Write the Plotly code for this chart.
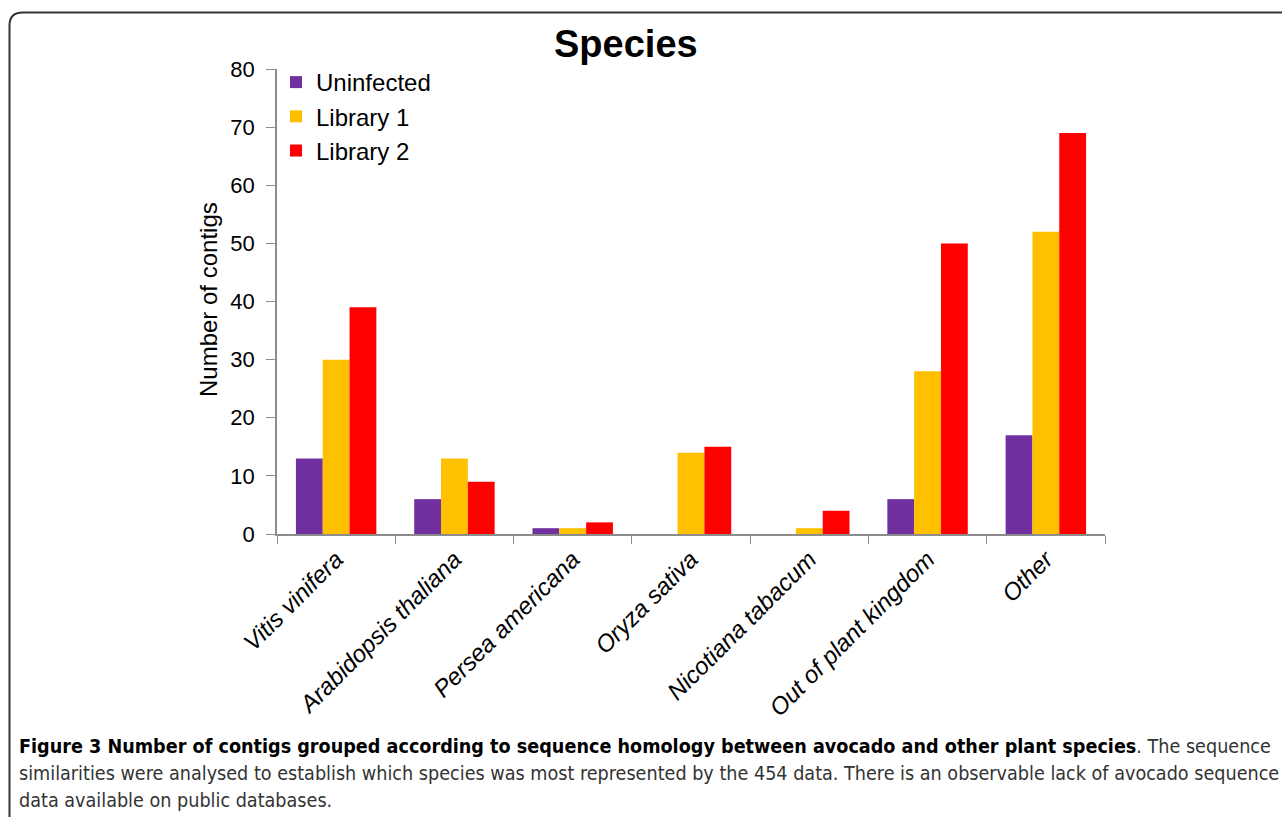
import plotly.graph_objects as go

categories = ["Vitis vinifera", "Arabidopsis thaliana", "Persea americana",
              "Oryza sativa", "Nicotiana tabacum", "Out of plant kingdom", "Other"]
uninfected = [13, 6, 1, 0, 0, 6, 17]
library1 = [30, 13, 1, 14, 1, 28, 52]
library2 = [39, 9, 2, 15, 4, 50, 69]
series_names = ["Uninfected", "Library 1", "Library 2"]
colors = ["#7030A0", "#FFC000", "#FF0000"]

W, H = 1282, 817
L, R, T, B = 277, 1105, 69, 534


def px(x):
    return (x - L) / (R - L)


def py(y):
    return (B - y) / (B - T)


ARIAL = "Arial, Liberation Sans, sans-serif"
labels = ["<i>%s</i>" % c for c in categories]

fig = go.Figure()
for i, (name, vals) in enumerate(zip(series_names, [uninfected, library1, library2])):
    fig.add_trace(go.Bar(
        x=labels, y=vals, name=name,
        marker=dict(color=colors[i], line=dict(width=0)),
    ))

fig.update_layout(
    width=W, height=H,
    margin=dict(l=L, r=W - R, t=T, b=H - B, autoexpand=False),
    paper_bgcolor="white", plot_bgcolor="white",
    barmode="group", bargap=0.32, bargroupgap=0,
    font=dict(family=ARIAL, color="black"),
    showlegend=True,
    legend=dict(
        x=px(276), y=py(60), xanchor="left", yanchor="top",
        font=dict(size=24, family=ARIAL),
        bgcolor="rgba(0,0,0,0)", tracegroupgap=0,
        itemwidth=30,
    ),
    xaxis=dict(
        showline=True, linecolor="#8c8c8c", linewidth=1.5,
        ticks="outside", tickson="boundaries", ticklen=8, tickcolor="#8c8c8c",
        tickangle=-45, tickfont=dict(size=24, family=ARIAL),
        showgrid=False, automargin=False,
    ),
    yaxis=dict(
        range=[0, 80], dtick=10, showline=True, linecolor="#8c8c8c", linewidth=1.5,
        ticks="outside", ticklen=9, tickcolor="#8c8c8c", ticklabelstandoff=7,
        tickfont=dict(size=22, family=ARIAL),
        showgrid=False, zeroline=False, automargin=False,
    ),
)

annotations = [
    dict(text="<b>Species</b>", x=px(626), y=py(44), xref="paper", yref="paper",
         xanchor="center", yanchor="middle", showarrow=False,
         font=dict(size=38, family=ARIAL, color="black")),
    dict(text="Number of contigs", x=px(208), y=py(300), xref="paper", yref="paper",
         xanchor="center", yanchor="middle", showarrow=False, textangle=-90,
         font=dict(size=24, family=ARIAL, color="black")),
]

cap_font = "Liberation Sans Narrow, DejaVu Sans Condensed, Open Sans, sans-serif"
caption_lines = [
    "<b><span style='color:#000000'>Figure 3 Number of contigs grouped according to sequence homology between avocado and other plant species</span></b>. The sequence",
    "similarities were analysed to establish which species was most represented by the 454 data. There is an observable lack of avocado sequence",
    "data available on public databases.",
]
for k, line in enumerate(caption_lines):
    annotations.append(dict(
        text=line, x=px(17), y=py(746 + 27 * k), xref="paper", yref="paper",
        xanchor="left", yanchor="middle", showarrow=False,
        font=dict(size=19.6, family=cap_font, color="#333333"),
    ))
fig.update_layout(annotations=annotations)

# rounded frame
r = 13
x0, y0 = 9.5, 12.5
path = "M %f,%f L %f,%f Q %f,%f %f,%f L %f,%f" % (
    px(1300), py(y0), px(x0 + r), py(y0), px(x0), py(y0), px(x0), py(y0 + r),
    px(x0), py(830))
fig.add_shape(type="path", path=path, xref="paper", yref="paper",
              line=dict(color="#333333", width=2))

fig.write_html("out.html", config={"displayModeBar": False},
               post_script="document.body.style.margin='0';")
